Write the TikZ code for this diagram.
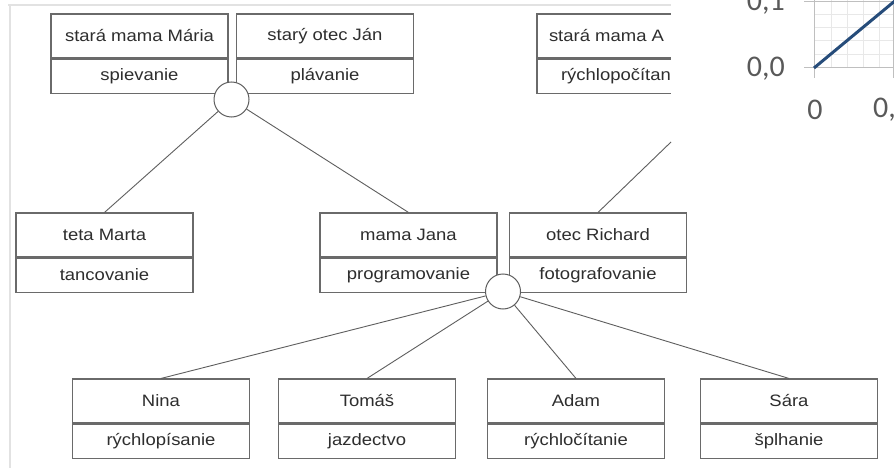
\documentclass[tikz,border=0pt]{standalone}
\usepackage{fontspec}
\newfontfamily\dfont[FakeStretch=1.12]{Liberation Sans}
\newfontfamily\cfont{Carlito}
\definecolor{boxgray}{HTML}{6A6A6A}
\definecolor{linegray}{HTML}{5E5E5E}
\definecolor{txt}{HTML}{2E2E2E}
\definecolor{framegray}{HTML}{E2E2E2}
\definecolor{axisgray}{HTML}{BFBFBF}
\definecolor{gridgray}{HTML}{E8E8E8}
\definecolor{serieblue}{HTML}{264C7A}
\definecolor{labgray}{HTML}{595959}
\begin{document}
\begin{tikzpicture}[x=1pt,y=-1pt,
  namebox/.style={draw=boxgray, line width=1.1pt, minimum width=177pt, minimum height=44pt, inner sep=0pt, font=\dfont\fontsize{16.5}{19}\selectfont, text=txt},
  hobbybox/.style={namebox, minimum height=34pt, anchor=north},
  knot/.style={circle, draw=linegray, fill=white, line width=1pt, minimum size=35pt, inner sep=0pt},
  link/.style={draw=linegray, line width=0.9pt},
  axislab/.style={font=\cfont\fontsize{30}{32}\selectfont, text=labgray, inner sep=0pt}]
\useasboundingbox (0,0) rectangle (894,468);
\fill[white] (0,0) rectangle (894,468);
% frame of the sheet
\draw[framegray, line width=1.5pt] (8,5) -- (671,5);
\draw[framegray, line width=1.5pt] (10,5) -- (10,468);
% grandparents
\node[namebox] (gm1) at (139.5,36) {stará mama Mária};
\node[hobbybox] (gm1h) at (gm1.south) {spievanie};
\node[namebox] (gf1) at (325,36) {starý otec Ján};
\node[hobbybox] (gf1h) at (gf1.south) {plávanie};
\node[namebox] (gm2) at (625.5,36) {\makebox[177pt][l]{\hspace{12pt}stará mama A}};
\node[hobbybox] (gm2h) at (gm2.south) {\makebox[177pt][l]{\hspace{24pt}rýchlopočítan}};
% parents
\node[namebox] (marta) at (104.5,235) {teta Marta};
\node[hobbybox] (martah) at (marta.south) {tancovanie};
\node[namebox] (jana) at (408.5,235) {mama Jana};
\node[hobbybox] (janah) at (jana.south) {programovanie};
\node[namebox] (richard) at (598,235) {otec Richard};
\node[hobbybox] (richardh) at (richard.south) {fotografovanie};
% children
\node[namebox] (nina) at (161,401) {Nina};
\node[hobbybox] (ninah) at (nina.south) {rýchlopísanie};
\node[namebox] (tomas) at (367,401) {Tomáš};
\node[hobbybox] (tomash) at (tomas.south) {jazdectvo};
\node[namebox] (adam) at (576,401) {Adam};
\node[hobbybox] (adamh) at (adam.south) {rýchločítanie};
\node[namebox] (sara) at (789,401) {Sára};
\node[hobbybox] (sarah) at (sara.south) {šplhanie};
% marriage knots
\node[knot] (c1) at (231.5,99.5) {};
\node[knot] (c2) at (503,291.5) {};
\coordinate (c3) at (671,142);
% connectors
\draw[link] (c1) -- (marta.north);
\draw[link] (c1) -- (jana.north);
\draw[link] (c3) -- (richard.north);
\draw[link] (c2) -- (nina.north);
\draw[link] (c2) -- (tomas.north);
\draw[link] (c2) -- (adam.north);
\draw[link] (c2) -- (sara.north);
% overlapping chart fragment
\fill[white] (671,0) rectangle (894,141);
\foreach \yy in {15,28,41,55} \draw[gridgray, line width=1pt] (814,\yy) -- (894,\yy);
\foreach \xx in {831,847,863,879} \draw[gridgray, line width=1pt] (\xx,0) -- (\xx,68);
\draw[axisgray, line width=1pt] (804,2) -- (894,2);
\draw[axisgray, line width=1pt] (804,68) -- (894,68);
\draw[axisgray, line width=1pt] (814,0) -- (814,78);
\draw[axisgray, line width=1pt] (893,0) -- (893,78);
\draw[serieblue, line width=3pt] (814,68) -- (896,0);
\node[axislab, anchor=east] (l01) at (785,3) {0,1};
\node[axislab, anchor=east] (l00) at (785,69) {0,0};
\node[axislab] (lx0) at (815,110) {0};
\node[axislab, anchor=west] (lx1) at (873,110) {0,};
\end{tikzpicture}
\end{document}
